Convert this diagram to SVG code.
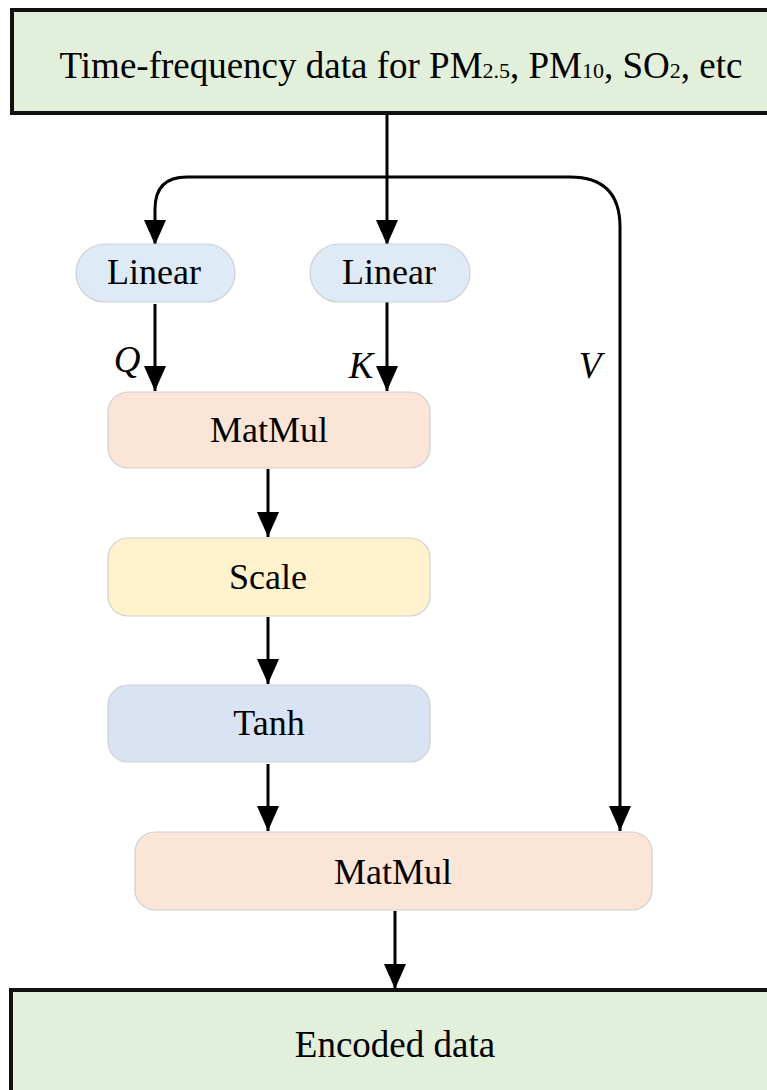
<svg xmlns="http://www.w3.org/2000/svg" width="767" height="1090" viewBox="0 0 767 1090">
<defs>
<marker id="ah" viewBox="0 0 25 22" refX="25" refY="11" markerWidth="25" markerHeight="22" markerUnits="userSpaceOnUse" orient="auto">
<path d="M0,0 L25,11 L0,22 Z" fill="#000"/>
</marker>
<style>
text{font-family:'Liberation Serif',serif;fill:#000;text-anchor:middle}
.big{stroke:#111;stroke-width:4}
.nd{stroke:#cfcfcf;stroke-width:1.2}
.cn{fill:none;stroke:#000;stroke-width:3}
.lbl{font-size:36px}
.it{font-style:italic;font-size:37px}
</style>
</defs>
<rect width="767" height="1090" fill="#fff"/>
<g id="input">
<rect class="big" x="12" y="10" width="770" height="103" fill="#e2efda"/>
<text x="401" y="78" font-size="37">Time-frequency data for PM<tspan font-size="22">2.5</tspan>, PM<tspan font-size="22">10</tspan>, SO<tspan font-size="22">2</tspan>, etc</text>
</g>
<g id="connectors">
<path class="cn" d="M387,115 V245" marker-end="url(#ah)"/>
<path class="cn" d="M387,177 H187 Q155,177 155,209 V245" marker-end="url(#ah)"/>
<path class="cn" d="M387,177 H570 Q620,177 620,227 V831" marker-end="url(#ah)"/>
<path class="cn" d="M155,304 V391" marker-end="url(#ah)"/>
<path class="cn" d="M387,302 V391" marker-end="url(#ah)"/>
<path class="cn" d="M268,469 V537" marker-end="url(#ah)"/>
<path class="cn" d="M268,617 V684" marker-end="url(#ah)"/>
<path class="cn" d="M268,764 V831" marker-end="url(#ah)"/>
<path class="cn" d="M395,911 V989" marker-end="url(#ah)"/>
</g>
<g id="labels">
<text class="it" x="127" y="372">Q</text>
<text class="it" x="361" y="378">K</text>
<text class="it" x="590" y="378">V</text>
</g>
<g id="linear1">
<rect class="nd" x="76" y="244" width="159" height="58" rx="29" fill="#deebf7"/>
<text class="lbl" x="154" y="284">Linear</text>
</g>
<g id="linear2">
<rect class="nd" x="310" y="244" width="160" height="58" rx="29" fill="#deebf7"/>
<text class="lbl" x="389" y="284">Linear</text>
</g>
<g id="matmul1">
<rect class="nd" x="108" y="392" width="322" height="76" rx="20" fill="#fbe5d6"/>
<text class="lbl" x="269" y="442">MatMul</text>
</g>
<g id="scale">
<rect class="nd" x="108" y="538" width="322" height="78" rx="20" fill="#fff2cc"/>
<text class="lbl" x="268" y="589">Scale</text>
</g>
<g id="tanh">
<rect class="nd" x="108" y="685" width="322" height="77" rx="20" fill="#dae3f3"/>
<text class="lbl" x="269" y="735">Tanh</text>
</g>
<g id="matmul2">
<rect class="nd" x="135" y="832" width="517" height="78" rx="20" fill="#fbe5d6"/>
<text class="lbl" x="393" y="884">MatMul</text>
</g>
<g id="output">
<rect class="big" x="11" y="990" width="772" height="110" fill="#e2efda"/>
<text x="395" y="1057" font-size="37">Encoded data</text>
</g>
</svg>
